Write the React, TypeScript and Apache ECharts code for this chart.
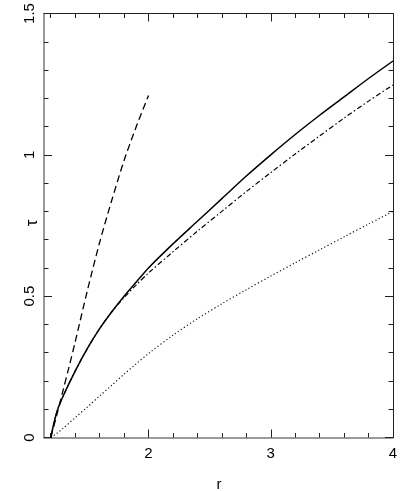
import React, { useEffect, useRef } from "react";
import * as echarts from "echarts";

const rValues = [1.2, 1.25, 1.3, 1.4, 1.5, 1.6, 1.7, 1.8, 1.9, 2.0, 2.2, 2.4, 2.6, 2.8, 3.0, 3.2, 3.4, 3.6, 3.8, 4.0];
const solidTau = [0, 0.09, 0.145, 0.235, 0.315, 0.385, 0.445, 0.5, 0.55, 0.6, 0.685, 0.765, 0.845, 0.925, 1.0, 1.072, 1.14, 1.205, 1.27, 1.332];
const dashDotTau = [0, 0.09, 0.145, 0.235, 0.315, 0.385, 0.445, 0.495, 0.54, 0.582, 0.657, 0.73, 0.8, 0.87, 0.937, 1.003, 1.067, 1.13, 1.19, 1.247];
const dottedTau = [0, 0.015, 0.032, 0.07, 0.108, 0.147, 0.185, 0.224, 0.261, 0.297, 0.362, 0.42, 0.473, 0.523, 0.571, 0.618, 0.664, 0.71, 0.755, 0.8];
const dashedR = [1.2, 1.25, 1.3, 1.35, 1.4, 1.5, 1.6, 1.7, 1.8, 1.9, 2.0];
const dashedTau = [0, 0.08, 0.165, 0.25, 0.338, 0.52, 0.69, 0.84, 0.98, 1.1, 1.21];

const xMajorTicks = [2, 3, 4];
const xMinorTicks = [1.2, 1.4, 1.6, 1.8, 2.2, 2.4, 2.6, 2.8, 3.2, 3.4, 3.6, 3.8];
const xMin = 1.145;
const xMax = 4;
const yMin = 0;
const yMax = 1.5;
const yInterval = 0.5;
const xTitle = "r";
const yTitle = "τ";

const pairs = (xs: number[], ys: number[]) => xs.map((x, i) => [x, ys[i]]);

export default function App() {
  const ref = useRef<HTMLDivElement>(null);
  useEffect(() => {
    if (!ref.current) return;
    const chart = echarts.init(ref.current, null, { renderer: "svg" });
    const font = { fontFamily: "Liberation Sans", fontSize: 15, color: "#000" };
    const grayLine = { show: true, lineStyle: { color: "#7a7a7a", width: 1.5 } };
    const darkLine = { show: true, lineStyle: { color: "#222", width: 1 } };
    const tickStyle = { color: "#222", width: 1 };
    const baseX = { type: "value", min: xMin, max: xMax, gridIndex: 0, splitLine: { show: false } };
    const baseY = { type: "value", min: yMin, max: yMax, interval: yInterval, gridIndex: 0, splitLine: { show: false } };
    const lineSeries = (data: number[][], lineStyle: any) => ({
      type: "line",
      xAxisIndex: 0,
      yAxisIndex: 0,
      data,
      showSymbol: false,
      smooth: 0.3,
      lineStyle: { color: "#000", ...lineStyle },
    });
    chart.setOption({
      animation: false,
      grid: { left: 44, right: 7, top: 13.5, bottom: 53.5, containLabel: false, outerBoundsMode: "none" },
      graphic: [
        {
          type: "text",
          x: 219,
          y: 483,
          style: { text: xTitle, fontFamily: "Liberation Sans", fontSize: 15, fill: "#000", align: "center", verticalAlign: "middle", lineHeight: 14 },
        },
        {
          type: "text",
          x: 31,
          y: 223,
          rotation: Math.PI / 2,
          style: { text: yTitle, fontFamily: "Liberation Sans", fontSize: 17, fill: "#000", align: "center", verticalAlign: "middle" },
        },
      ],
      xAxis: [
        {
          ...baseX,
          position: "bottom",
          axisLine: grayLine,
          axisTick: { show: true, inside: true, length: 8, customValues: xMajorTicks, lineStyle: tickStyle },
          axisLabel: { show: true, customValues: xMajorTicks, margin: 7, ...font },
        },
        {
          ...baseX,
          position: "bottom",
          axisLine: { show: false },
          axisTick: { show: true, inside: true, length: 4.5, customValues: xMinorTicks, lineStyle: tickStyle },
          axisLabel: { show: false },
        },
        {
          ...baseX,
          position: "top",
          axisLine: darkLine,
          axisTick: { show: true, inside: true, length: 8, customValues: xMajorTicks, lineStyle: tickStyle },
          axisLabel: { show: false },
        },
        {
          ...baseX,
          position: "top",
          axisLine: { show: false },
          axisTick: { show: true, inside: true, length: 4.5, customValues: xMinorTicks, lineStyle: tickStyle },
          axisLabel: { show: false },
        },
      ],
      yAxis: [
        {
          ...baseY,
          position: "left",
          axisLine: grayLine,
          axisTick: { show: true, inside: true, length: 8, lineStyle: tickStyle },
          minorTick: { show: true, splitNumber: 5, length: 4.5, lineStyle: tickStyle },
          axisLabel: { show: true, rotate: 90, margin: 8, ...font },
        },
        {
          ...baseY,
          position: "right",
          axisLine: darkLine,
          axisTick: { show: true, inside: true, length: 8, lineStyle: tickStyle },
          minorTick: { show: true, splitNumber: 5, length: 4.5, lineStyle: tickStyle },
          axisLabel: { show: false },
        },
      ],
      series: [
        lineSeries(pairs(rValues, solidTau), { width: 1.5, type: "solid" }),
        lineSeries(pairs(rValues, dashDotTau), { width: 1.2, type: [5, 2.5, 1.5, 2.5] }),
        lineSeries(pairs(rValues, dottedTau), { width: 1.1, type: [1.2, 2.4] }),
        lineSeries(pairs(dashedR, dashedTau), { width: 1.3, type: [7, 4] }),
      ],
    });
    return () => chart.dispose();
  }, []);
  return <div ref={ref} style={{ position: "fixed", left: 0, top: 0, width: 400, height: 491 }} />;
}
